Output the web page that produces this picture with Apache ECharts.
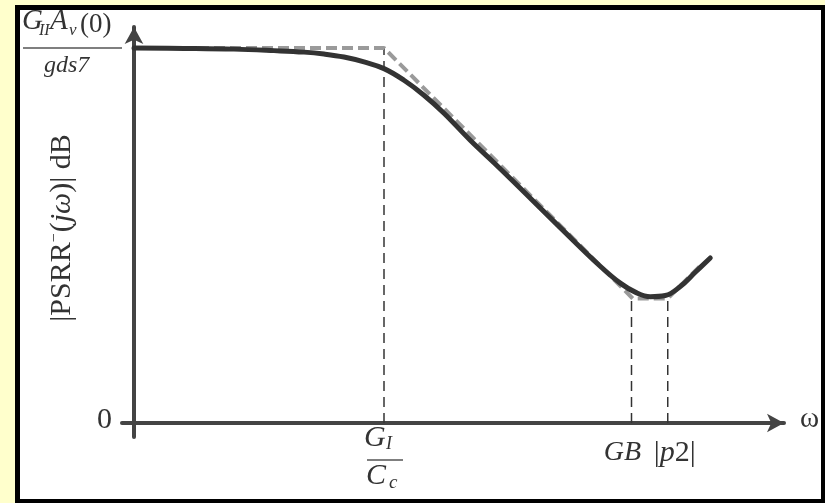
<!DOCTYPE html>
<html>
<head>
<meta charset="utf-8">
<script src="https://cdn.jsdelivr.net/npm/echarts@6/dist/echarts.min.js"></script>
<style>
html,body{margin:0;padding:0;background:#ffffcc;}
#c{width:825px;height:503px;}
</style>
</head>
<body>
<div id="c"></div>
<script>
// x = log-frequency (arbitrary decades), y = |PSRR-| in dB (arbitrary, 100 = G_II*A_v(0)/g_ds7)
var curveX = [0, 0.4, 0.8, 1.12, 1.36, 1.52, 1.68, 1.84, 2.0, 2.16, 2.32, 2.48, 2.69, 2.88, 3.09, 3.41, 3.73, 3.89, 4.01, 4.13, 4.25, 4.37, 4.49, 4.61];
var curveY = [100, 99.9, 99.7, 99.3, 98.9, 98.4, 97.6, 96.3, 94.5, 91.4, 87.4, 82.6, 75.4, 69.4, 62.6, 52.1, 41.8, 37.3, 34.9, 33.7, 34.0, 36.4, 40.2, 44.0];
var asymX = [0, 2.0, 3.99, 4.27, 4.55];
var asymY = [100, 100, 33.2, 33.2, 42.6];
// guide lines: x position and height they rise to
var guideX = [2.0, 3.98, 4.27];
var guideTop = [100, 33.2, 33.2];
var zeroLabel = '0';
var axisName = 'ω';

function zip(a, b) { return a.map(function (v, i) { return [v, b[i]]; }); }

var chart = echarts.init(document.getElementById('c'), null, {renderer: 'canvas'});
var serif = '"Liberation Serif", "DejaVu Serif", serif';

var series = [];
guideX.forEach(function (gx, i) {
  series.push({
    type: 'line', data: [[gx, 0], [gx, guideTop[i]]], symbol: 'none', silent: true,
    lineStyle: {color: '#333', width: 1.5, type: [10, 6]}, z: 2
  });
});
series.push({
  type: 'line', data: zip(asymX, asymY), symbol: 'none', silent: true,
  lineStyle: {color: '#9a9a9a', width: 4, type: [11, 5]}, z: 3
});
series.push({
  type: 'line', data: zip(curveX, curveY), symbol: 'none', smooth: 0.4, silent: true,
  lineStyle: {color: '#333', width: 5, cap: 'round'}, z: 4
});

var axisCommon = {
  type: 'value',
  axisLine: {show: true, onZero: true, symbol: ['none', 'arrow'], symbolSize: [14, 17],
    lineStyle: {color: '#444', width: 4}},
  axisTick: {show: false}, axisLabel: {show: false}, splitLine: {show: false}
};

chart.setOption({
  backgroundColor: '#ffffcc',
  animation: false,
  grid: {left: 122, right: 41, top: 27, bottom: 66, containLabel: false},
  xAxis: Object.assign({}, axisCommon, {min: -0.096, max: 5.2}),
  yAxis: Object.assign({}, axisCommon, {min: -3.73, max: 105.6}),
  series: series
});

function px(x, y) { return chart.convertToPixel({gridIndex: 0}, [x, y]); }

var g = [];
// frame
g.push({type: 'rect', shape: {x: 17.5, y: 7.5, width: 806, height: 494},
  style: {fill: '#fff', stroke: '#000', lineWidth: 5}, z: -10, silent: true});

function txt(x, y, text, size, italic, align) {
  return {type: 'text', x: x, y: y, silent: true, z: 100,
    style: {text: text, fill: '#333', fontFamily: serif, fontSize: size,
      fontStyle: italic ? 'italic' : 'normal', textAlign: align || 'left', textVerticalAlign: 'bottom'}};
}
function hline(x1, x2, y) {
  return {type: 'line', shape: {x1: x1, y1: y, x2: x2, y2: y}, style: {stroke: '#555', lineWidth: 1.5}, silent: true, z: 100};
}

// top-left value label: G_II A_v(0) / g_ds7
var topY = px(0, 100)[1];
g.push(txt(22, topY - 12, 'G', 29, true));
g.push(txt(39, topY - 9, 'II', 16, true));
g.push(txt(50, topY - 12, 'A', 29, true));
g.push(txt(69, topY - 9, 'v', 17, true));
g.push(txt(80, topY - 10, '(0)', 27, false));
g.push(hline(23, 122, topY));
g.push(txt(44, topY + 30, 'gds7', 24, true));

// y-axis title
g.push({type: 'text', x: 62, y: 228, rotation: Math.PI / 2, silent: true, z: 100,
  style: {text: '{n||PSRR}{s|−}{n|(}{i|jω}{n|)| dB}', textAlign: 'center', textVerticalAlign: 'middle',
    fill: '#333',
    rich: {
      n: {fontFamily: serif, fontSize: 30, fill: '#333'},
      i: {fontFamily: serif, fontSize: 30, fontStyle: 'italic', fill: '#333'},
      s: {fontFamily: serif, fontSize: 16, fill: '#333', verticalAlign: 'top', padding: [0, 1, 12, 0]}
    }}});

// zero label and omega
var origin = px(0, 0);
g.push(txt(origin[0] - 22, origin[1] + 12, zeroLabel, 30, false, 'right'));
var xEnd = px(5.2, 0);
g.push(txt(xEnd[0] + 16, origin[1] + 11, axisName, 29, false, 'left'));

// G_I / C_c under first guide
var p1 = px(guideX[0], 0);
g.push(txt(p1[0] - 20, origin[1] + 30, 'G', 30, true));
g.push(txt(p1[0] + 2, origin[1] + 30, 'I', 18, true));
g.push(hline(p1[0] - 17, p1[0] + 19, origin[1] + 37));
g.push(txt(p1[0] - 18, origin[1] + 68, 'C', 30, true));
g.push(txt(p1[0] + 5, origin[1] + 69, 'c', 19, true));

// GB |p2|
var p2 = px(guideX[1], 0), p3 = px(guideX[2], 0);
g.push(txt(p2[0] - 9, origin[1] + 44, 'GB', 28, true, 'center'));
g.push({type: 'text', x: p3[0] + 7, y: origin[1] + 45, silent: true, z: 100,
  style: {text: '{n||}{i|p}{n|2|}', textAlign: 'center', textVerticalAlign: 'bottom', fill: '#333',
    rich: {n: {fontFamily: serif, fontSize: 30, fill: '#333'},
      i: {fontFamily: serif, fontSize: 30, fontStyle: 'italic', fill: '#333'}}}});

chart.setOption({graphic: g});
</script>
</body>
</html>
